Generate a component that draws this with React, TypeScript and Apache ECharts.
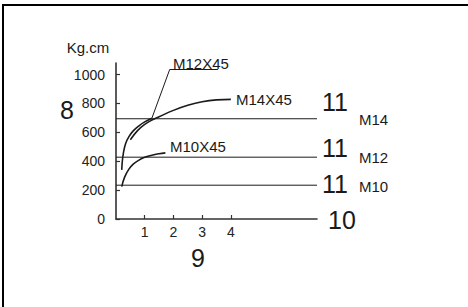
import React, { useEffect, useRef } from 'react';
import * as echarts from 'echarts';

const yTicks = [0, 200, 400, 600, 800, 1000];
const xTicks = [1, 2, 3, 4];
const limitNames = ['M14', 'M12', 'M10'];
const limitValues = [694, 428, 234];
const m14x45: [number, number][] = [
  [0.5, 549], [0.75, 612], [1.0, 655], [1.25, 685], [1.5, 708], [2.0, 752], [2.5, 787], [3.0, 812], [3.5, 825], [4.0, 828],
];
const m12x45: [number, number][] = [
  [0.2, 340], [0.22, 400], [0.26, 460], [0.33, 520], [0.45, 570], [0.6, 610], [0.8, 645], [1.0, 672], [1.25, 698],
];
const m10x45: [number, number][] = [
  [0.2, 224], [0.3, 290], [0.45, 345], [0.6, 380], [0.8, 408], [1.0, 427], [1.25, 442], [1.5, 452], [1.72, 458],
];
const leader: [number, number][] = [[1.25, 698], [1.87, 1035], [3.55, 1035]];

const FONT = '"Liberation Sans", Arial, sans-serif';

export default function App() {
  const ref = useRef<HTMLDivElement>(null);
  useEffect(() => {
    if (!ref.current) return;
    const chart = echarts.init(ref.current, undefined, { renderer: 'svg' });
    const lineColor = '#1a1a1a';
    const txt = (text: string, x: number, y: number, size: number, align = 'center') => ({
      type: 'text',
      x,
      y,
      style: {
        text,
        fontSize: size,
        fontFamily: FONT,
        fill: '#1a1a1a',
        align,
        verticalAlign: 'middle',
      },
    });
    const curve = (data: [number, number][]) => ({
      type: 'line',
      data,
      smooth: 0.4,
      symbol: 'none',
      lineStyle: { color: lineColor, width: 1.6 },
      silent: true,
    });
    chart.setOption({
      animation: false,
      grid: { left: 116, top: 63, width: 201, height: 156 },
      xAxis: {
        type: 'value',
        min: 0,
        max: 7,
        splitLine: { show: false },
        axisLine: { show: true, lineStyle: { color: '#333', width: 1.6 } },
        axisTick: { show: true, inside: true, length: 4, customValues: xTicks, lineStyle: { color: '#333', width: 1.2 } },
        axisLabel: { customValues: xTicks, margin: 6, fontSize: 14, fontFamily: FONT, color: '#222', formatter: (v: number) => String(v) },
      },
      yAxis: {
        type: 'value',
        min: 0,
        max: 1080,
        splitLine: { show: false },
        axisLine: { show: true, lineStyle: { color: '#333', width: 1.6 } },
        axisTick: { show: true, inside: true, length: 4, customValues: yTicks, lineStyle: { color: '#333', width: 1.2 } },
        axisLabel: { customValues: yTicks, margin: 11, fontSize: 14, fontFamily: FONT, color: '#222', padding: [0, 0, 4, 0], formatter: (v: number) => String(v) },
      },
      series: [
        ...limitValues.map((v) => ({
          type: 'line',
          data: [[0, v], [7, v]],
          symbol: 'none',
          lineStyle: { color: lineColor, width: 1 },
          silent: true,
        })),
        curve(m14x45),
        curve(m12x45),
        curve(m10x45),
        {
          type: 'line',
          data: leader,
          symbol: 'none',
          lineStyle: { color: lineColor, width: 1 },
          silent: true,
        },
      ],
      graphic: [
        { type: 'line', shape: { x1: 2, y1: 5, x2: 468, y2: 5 }, style: { stroke: '#000', lineWidth: 2 } },
        { type: 'line', shape: { x1: 3, y1: 4, x2: 3, y2: 307 }, style: { stroke: '#000', lineWidth: 2 } },
        txt('Kg.cm', 88, 47, 15),
        txt('8', 67, 110, 25),
        txt('11', 335, 102, 25),
        txt('11', 335, 148, 25),
        txt('11', 335, 184, 25),
        txt('10', 342, 220, 25),
        txt('9', 198, 258, 25),
        txt(limitNames[0], 359, 119, 15, 'left'),
        txt(limitNames[1], 359, 157, 15, 'left'),
        txt(limitNames[2], 359, 186, 15, 'left'),
        txt('M12X45', 173, 63, 15, 'left'),
        txt('M14X45', 236, 99, 15, 'left'),
        txt('M10X45', 170, 146, 15, 'left'),
      ],
    });
    return () => chart.dispose();
  }, []);
  return <div ref={ref} style={{ position: 'fixed', left: 0, top: 0, width: 468, height: 307, background: '#fff' }} />;
}
